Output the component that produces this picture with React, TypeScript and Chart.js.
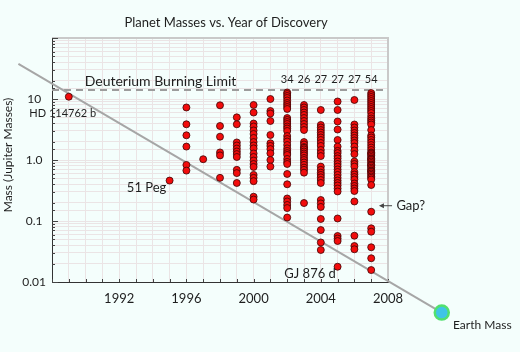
import React, { useEffect, useRef } from 'react';
import { Chart, registerables } from 'chart.js';

Chart.register(...registerables);

const FONT = 'Lato, "Open Sans", sans-serif';
const BG = '#f4fefc';
const GRID = '#ebe4e5';
const TEXT = '#1e1e1e';

const chartTitle = 'Planet Masses vs. Year of Discovery';
const yAxisTitle = 'Mass (Jupiter Masses)';
const xTickYears = [1992, 1996, 2000, 2004, 2008];
const yTickValues = [0.01, 0.1, 1, 10];
const yTickLabels = ['0.01', '0.1', '1.0', '10'];

// Planet masses (Jupiter masses) by year of discovery
const masses1989 = [10.9];
const masses1995 = [0.46];
const masses1996 = [7.26, 3.85, 2.54, 1.66, 0.83, 0.67];
const masses1997 = [1.03];
const masses1998 = [7.88, 3.61, 2.41, 1.33, 1.19, 0.51];
const masses1999 = [5.0, 3.85, 1.94, 1.73, 1.54, 1.38, 1.25, 1.12, 0.69, 0.61, 0.42];
const masses2000 = [7.98, 6.0, 3.96, 3.54, 3.05, 2.67, 2.3, 1.97, 1.73, 1.55, 1.28, 1.12, 0.98, 0.86, 0.77, 0.57, 0.51, 0.45, 0.25, 0.225];
const masses2001 = [10.0, 6.36, 5.78, 4.36, 2.57, 1.88, 1.7, 1.51, 1.29, 1.0, 0.78];
const masses2002 = [12.8, 12.1, 11.2, 10.4, 9.45, 8.6, 7.98, 7.39, 6.86, 4.88, 4.53, 4.2, 3.89, 3.54, 3.28, 2.99, 2.47, 2.21, 2.01, 1.76, 1.55, 1.41, 1.3, 1.21, 1.04, 0.93, 0.86, 0.59, 0.4, 0.234, 0.209, 0.183, 0.163, 0.114];
const masses2003 = [7.98, 7.26, 6.61, 6.0, 5.47, 4.88, 4.36, 3.89, 3.47, 3.1, 1.97, 1.8, 1.63, 1.58, 1.49, 1.38, 1.28, 1.19, 1.08, 1.0, 0.91, 0.83, 0.75, 0.69, 0.62, 0.197];
const masses2004 = [6.61, 3.75, 3.41, 3.1, 2.82, 2.57, 2.34, 2.13, 1.9, 1.7, 1.46, 1.3, 1.16, 0.78, 0.69, 0.62, 0.57, 0.52, 0.47, 0.42, 0.221, 0.194, 0.17, 0.108, 0.071, 0.0445, 0.0335];
const masses2005 = [9.1, 6.61, 4.28, 3.16, 2.13, 1.66, 1.41, 1.3, 1.16, 1.06, 0.945, 0.86, 0.78, 0.7, 0.636, 0.57, 0.51, 0.461, 0.42, 0.382, 0.341, 0.305, 0.11, 0.0568, 0.0516, 0.047, 0.0178];
const masses2006 = [9.63, 3.82, 3.41, 3.05, 2.77, 2.52, 2.3, 2.09, 1.9, 1.66, 1.43, 1.25, 0.945, 0.86, 0.78, 0.636, 0.578, 0.526, 0.479, 0.412, 0.375, 0.341, 0.31, 0.209, 0.0574, 0.0389, 0.0344];
const masses2007 = [12.5, 11.6, 10.8, 10.0, 9.27, 8.6, 7.98, 7.39, 6.86, 6.36, 5.89, 5.26, 4.79, 4.44, 4.12, 3.82, 3.1, 2.52, 2.34, 2.13, 1.94, 1.76, 1.6, 1.46, 1.33, 1.29, 1.25, 1.19, 1.12, 1.06, 1.03, 1.0, 0.945, 0.893, 0.844, 0.82, 0.798, 0.75, 0.712, 0.673, 0.655, 0.636, 0.601, 0.57, 0.537, 0.51, 0.479, 0.389, 0.142, 0.0759, 0.0668, 0.0371, 0.0245, 0.0157];

const discoveryYears = [1989, 1995, 1996, 1997, 1998, 1999, 2000, 2001, 2002, 2003, 2004, 2005, 2006, 2007];
const massesByYear = [masses1989, masses1995, masses1996, masses1997, masses1998, masses1999, masses2000, masses2001, masses2002, masses2003, masses2004, masses2005, masses2006, masses2007];

const countYears = [2002, 2003, 2004, 2005, 2006, 2007];
const countLabels = ['34', '26', '27', '27', '27', '54'];
const countMass = 21;

const deuteriumMass = 14;
const deuteriumYears = [1988, 2008];
const deuteriumLabel = 'Deuterium Burning Limit';
const deuteriumLabelAt = { year: 1994.46, mass: 19.2 };

const trendYears = [1986, 2011.2];
const trendMasses = [37.5, 0.00315];
const earthYear = 2011.2;
const earthMass = 0.00315;

const notes = [
  { text: 'HD 114762 b', year: 1988.64, mass: 5.9, align: 'center', size: 11 },
  { text: '51 Peg', year: 1993.63, mass: 0.35, align: 'center', size: 13 },
  { text: 'GJ 876 d', year: 2003.36, mass: 0.0135, align: 'center', size: 13 },
  { text: 'Gap?', year: 2008.5, mass: 0.178, align: 'left', size: 13 },
  { text: 'Earth Mass', year: 2011.87, mass: 0.00197, align: 'left', size: 12 },
];
const gapArrow = { fromYear: 2008.24, toYear: 2007.46, mass: 0.178 };

const isDecade = (v: number) => Math.abs(Math.log10(v) - Math.round(Math.log10(v))) < 1e-6;

const decor = {
  id: 'decor',
  beforeDatasetsDraw(chart: any) {
    const { ctx, chartArea: a, scales } = chart;
    const xs = scales.x, ys = scales.y;
    ctx.save();
    ctx.strokeStyle = '#c9c9c9';
    ctx.lineWidth = 2;
    ctx.beginPath();
    ctx.moveTo(a.left, a.top);
    ctx.lineTo(a.right, a.top);
    ctx.lineTo(a.right, a.bottom);
    ctx.stroke();
    ctx.strokeStyle = '#444';
    ctx.lineWidth = 1;
    ctx.beginPath();
    ys.ticks.forEach((t: any) => {
      const y = Math.round(ys.getPixelForValue(t.value)) + 0.5;
      const len = isDecade(t.value) ? 6 : 3;
      ctx.moveTo(a.left, y);
      ctx.lineTo(a.left + len, y);
    });
    xs.ticks.forEach((t: any) => {
      const x = Math.round(xs.getPixelForValue(t.value)) + 0.5;
      ctx.moveTo(x, a.bottom);
      ctx.lineTo(x, a.bottom - 3);
    });
    ctx.stroke();
    ctx.restore();
  },
  afterDatasetsDraw(chart: any) {
    const { ctx, chartArea: a, scales } = chart;
    const xs = scales.x, ys = scales.y;
    const px = (yr: number) => xs.getPixelForValue(yr);
    const py = (m: number) => ys.getPixelForValue(m);
    ctx.save();
    ctx.fillStyle = TEXT;
    ctx.textBaseline = 'middle';
    ctx.font = `13px ${FONT}`;
    ctx.textAlign = 'center';
    ctx.fillText(chartTitle, (a.left + a.right) / 2 + 6, 23);
    ctx.save();
    ctx.translate(8, 155);
    ctx.rotate(-Math.PI / 2);
    ctx.font = `12px ${FONT}`;
    ctx.fillText(yAxisTitle, 0, 0);
    ctx.restore();
    ctx.font = `14px ${FONT}`;
    ctx.fillText(deuteriumLabel, px(deuteriumLabelAt.year), py(deuteriumLabelAt.mass));
    ctx.font = `11px ${FONT}`;
    countYears.forEach((yr, i) => ctx.fillText(countLabels[i], px(yr), py(countMass)));
    notes.forEach((n) => {
      ctx.font = `${n.size}px ${FONT}`;
      ctx.textAlign = n.align as CanvasTextAlign;
      ctx.fillText(n.text, px(n.year), py(n.mass));
    });
    const ay = py(gapArrow.mass);
    const x1 = px(gapArrow.fromYear), x2 = px(gapArrow.toYear);
    ctx.strokeStyle = '#444';
    ctx.lineWidth = 1;
    ctx.beginPath();
    ctx.moveTo(x1, ay);
    ctx.lineTo(x2 + 3, ay);
    ctx.stroke();
    ctx.fillStyle = '#444';
    ctx.beginPath();
    ctx.moveTo(x2, ay);
    ctx.lineTo(x2 + 5, ay - 2.5);
    ctx.lineTo(x2 + 5, ay + 2.5);
    ctx.closePath();
    ctx.fill();
    ctx.beginPath();
    ctx.arc(px(earthYear), py(earthMass), 7, 0, Math.PI * 2);
    ctx.fillStyle = '#3fc4e6';
    ctx.fill();
    ctx.lineWidth = 2.5;
    ctx.strokeStyle = '#52e06e';
    ctx.stroke();
    ctx.restore();
  },
};

export default function App() {
  const ref = useRef<HTMLCanvasElement | null>(null);
  useEffect(() => {
    document.body.style.margin = '0';
    document.body.style.background = BG;
    const planetPoints: { x: number; y: number }[] = [];
    discoveryYears.forEach((yr, i) => massesByYear[i].forEach((m) => planetPoints.push({ x: yr, y: m })));
    const chart = new Chart(ref.current as HTMLCanvasElement, {
      type: 'scatter',
      data: {
        datasets: [
          {
            data: planetPoints,
            backgroundColor: '#f20c0c',
            borderColor: '#3a0505',
            borderWidth: 0.8,
            pointRadius: 3.5,
            order: 0,
          } as any,
          {
            type: 'line',
            data: trendYears.map((x, i) => ({ x, y: trendMasses[i] })),
            borderColor: '#a6a6a6',
            borderWidth: 2,
            pointRadius: 0,
            clip: false,
            order: 1,
          } as any,
          {
            type: 'line',
            data: deuteriumYears.map((x) => ({ x, y: deuteriumMass })),
            borderColor: '#9c9c9c',
            borderWidth: 2,
            borderDash: [7, 5],
            pointRadius: 0,
            order: 2,
          } as any,
        ],
      },
      options: {
        animation: false,
        responsive: false,
        events: [],
        layout: { padding: { left: 0, top: 38, right: 132, bottom: 40 } },
        plugins: { legend: { display: false }, tooltip: { enabled: false }, title: { display: false } },
        scales: {
          x: {
            type: 'linear',
            min: 1988,
            max: 2008,
            afterFit: (s: any) => { s.height = 30; },
            ticks: {
              stepSize: 1,
              autoSkip: false,
              maxRotation: 0,
              padding: 9,
              color: TEXT,
              font: { family: FONT, size: 13 },
              callback: (v: any) => (xTickYears.includes(Number(v)) ? String(v) : ''),
            },
            grid: { color: GRID, drawTicks: false },
            border: { color: '#333', width: 1 },
          },
          y: {
            type: 'logarithmic',
            min: 0.01,
            max: 100,
            afterFit: (s: any) => { s.width = 52; },
            ticks: {
              autoSkip: false,
              padding: 6,
              crossAlign: 'center',
              color: TEXT,
              font: { family: FONT, size: 12 },
              callback: (v: any) => {
                const i = yTickValues.findIndex((t) => Math.abs(Math.log10(t) - Math.log10(Number(v))) < 1e-6);
                return i >= 0 ? yTickLabels[i] : '';
              },
            },
            grid: { color: GRID, drawTicks: false },
            border: { color: '#333', width: 1 },
          },
        },
      },
      plugins: [decor],
    } as any);
    return () => chart.destroy();
  }, []);
  return (
    <div style={{ width: 520, height: 352, background: BG }}>
      <canvas ref={ref} width={520} height={352} style={{ display: 'block' }} />
    </div>
  );
}
